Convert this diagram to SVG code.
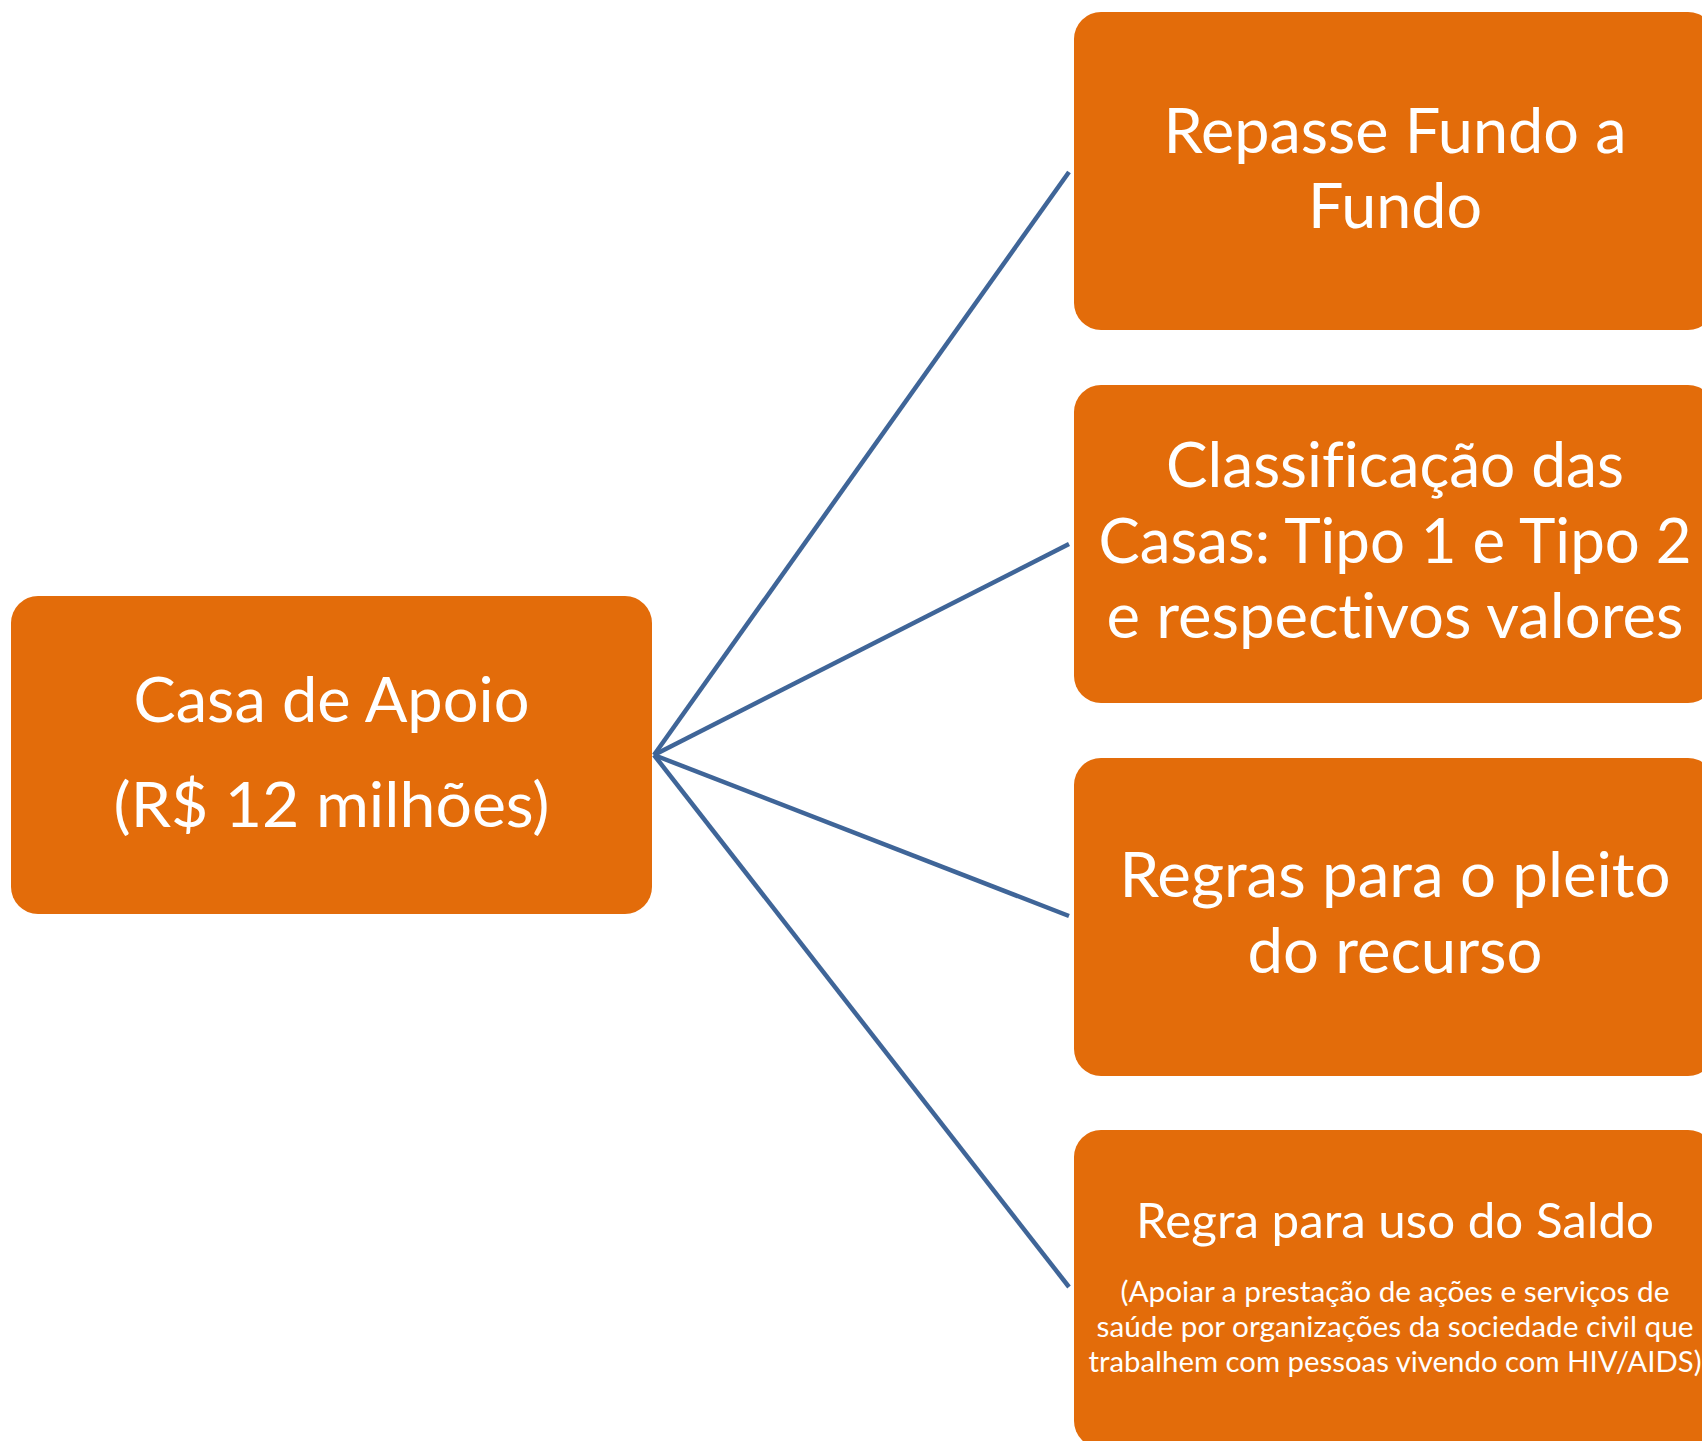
<svg xmlns="http://www.w3.org/2000/svg" width="1702" height="1441" viewBox="0 0 1702 1441">
  <style>
    .box { fill: #E36C0A; }
    .t { fill: #FFFFFF; font-family: Lato, "Open Sans", sans-serif; text-anchor: middle; font-variant-ligatures: none; font-feature-settings: "liga" 0, "dlig" 0; }
    .big { font-size: 61px; }
    .lft { font-size: 62px; }
    .mid { font-size: 48px; }
    .sml { font-size: 29px; }
    .conn line { stroke: #3F6598; stroke-width: 4.5; stroke-linecap: butt; fill: none; }
  </style>
  <rect x="0" y="0" width="1702" height="1441" fill="#FFFFFF"/>

  <g id="connectors" class="conn">
    <line x1="654" y1="755" x2="1069" y2="172"/>
    <line x1="654" y1="755" x2="1069" y2="544"/>
    <line x1="654" y1="755" x2="1069" y2="916"/>
    <line x1="654" y1="755" x2="1069" y2="1287"/>
  </g>

  <g id="node-casa-de-apoio">
    <rect class="box" x="11" y="596" width="641" height="318" rx="27" ry="27"/>
    <text class="t lft" x="331.5" y="722" textLength="396" lengthAdjust="spacingAndGlyphs">Casa de Apoio</text>
    <text class="t lft" x="331.5" y="827" textLength="436" lengthAdjust="spacingAndGlyphs">(R$ 12 milhões)</text>
  </g>

  <g id="node-repasse">
    <rect class="box" x="1074" y="12" width="641" height="318" rx="27" ry="27"/>
    <text class="t big" x="1395" y="153" textLength="463" lengthAdjust="spacingAndGlyphs">Repasse Fundo a</text>
    <text class="t big" x="1395" y="228" textLength="174" lengthAdjust="spacingAndGlyphs">Fundo</text>
  </g>

  <g id="node-classificacao">
    <rect class="box" x="1074" y="385" width="641" height="318" rx="27" ry="27"/>
    <text class="t big" x="1395" y="487" textLength="458" lengthAdjust="spacingAndGlyphs">Classificação das</text>
    <text class="t big" x="1395" y="563" textLength="593" lengthAdjust="spacingAndGlyphs">Casas: Tipo 1 e Tipo 2</text>
    <text class="t big" x="1395" y="638" textLength="577" lengthAdjust="spacingAndGlyphs">e respectivos valores</text>
  </g>

  <g id="node-regras">
    <rect class="box" x="1074" y="758" width="641" height="318" rx="27" ry="27"/>
    <text class="t big" x="1395" y="897" textLength="551" lengthAdjust="spacingAndGlyphs">Regras para o pleito</text>
    <text class="t big" x="1395" y="973" textLength="295" lengthAdjust="spacingAndGlyphs">do recurso</text>
  </g>

  <g id="node-saldo">
    <rect class="box" x="1074" y="1130" width="641" height="318" rx="27" ry="27"/>
    <text class="t mid" x="1395" y="1238" textLength="518" lengthAdjust="spacingAndGlyphs">Regra para uso do Saldo</text>
    <text class="t sml" x="1395" y="1302" textLength="549" lengthAdjust="spacingAndGlyphs">(Apoiar a prestação de ações e serviços de</text>
    <text class="t sml" x="1395" y="1337" textLength="597" lengthAdjust="spacingAndGlyphs">saúde por organizações da sociedade civil que</text>
    <text class="t sml" x="1395" y="1372" textLength="613" lengthAdjust="spacingAndGlyphs">trabalhem com pessoas vivendo com HIV/AIDS)</text>
  </g>
</svg>
